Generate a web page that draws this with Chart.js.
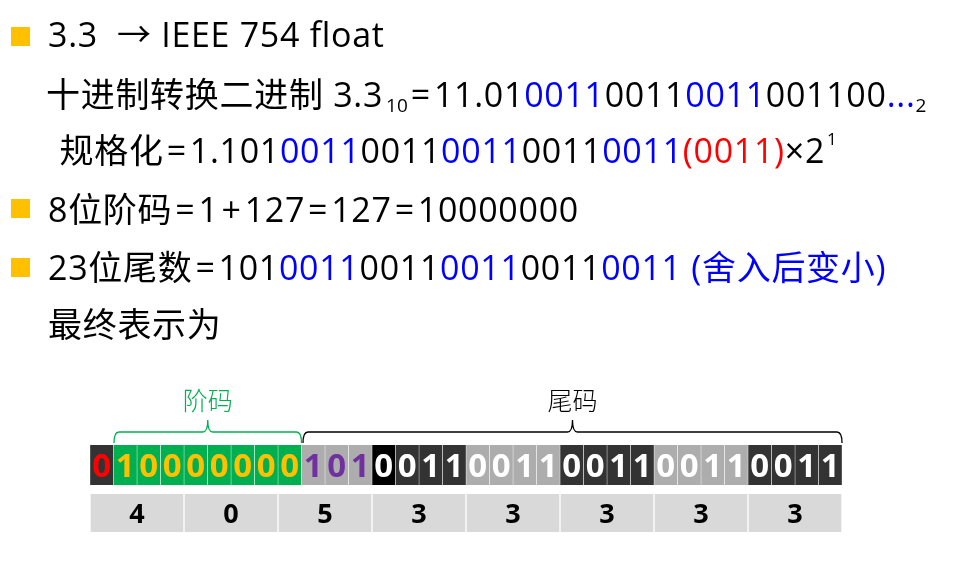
<!DOCTYPE html>
<html>
<head>
<meta charset="utf-8">
<script src="https://cdn.jsdelivr.net/npm/chart.js@4/dist/chart.umd.min.js"></script>
<style>
  html, body { margin: 0; padding: 0; background: #fff; }
  body { width: 958px; height: 562px; position: relative; overflow: hidden; }
  #bits { position: absolute; left: 0; top: 0; }
  .ln {
    position: absolute; white-space: pre; color: #000;
    font-family: "Open Sans", "Noto Sans CJK SC", sans-serif;
    font-size: 34px; line-height: 40px; letter-spacing: 0.7px;
  }
  .dot { position: absolute; left: 11px; width: 19px; height: 19px; background: #FFC000; }
  .b { color: #0000FF; }
  .r { color: #FF0000; }
  .eq { margin: 0 3px; }
  .sub { font-size: 19px; position: relative; top: 5px; letter-spacing: 0; }
  .sup { font-size: 17px; position: relative; top: -18px; margin-left: 2px; }
</style>
</head>
<body>
<canvas id="bits" width="958" height="562"></canvas>

<div class="dot" style="top:27px"></div>
<div class="ln" style="left:48px; top:14px">3.3&nbsp; → IEEE 754 float</div>
<div class="ln" style="left:46px; top:74px">十进制转换二进制 3.3<span class="sub" style="margin-left:3px">10</span><span class="eq">=</span>11.01<span class="b">0011</span>0011<span class="b">0011</span>001100<span class="b">...</span><span class="sub">2</span></div>
<div class="ln" style="left:50px; top:130px"> 规格化<span class="eq">=</span>1.101<span class="b">0011</span>0011<span class="b">0011</span>0011<span class="b">0011</span><span class="r">(0011)</span>×2<span class="sup">1</span></div>
<div class="dot" style="top:199px"></div>
<div class="ln" style="left:48px; top:189px">8位阶码<span class="eq">=</span>1<span class="eq">+</span>127<span class="eq">=</span>127<span class="eq">=</span>10000000</div>
<div class="dot" style="top:258px"></div>
<div class="ln" style="left:48px; top:247px">23位尾数<span class="eq">=</span>101<span class="b">0011</span>0011<span class="b">0011</span>0011<span class="b">0011</span><span class="b"> (舍入后变小)</span></div>
<div class="ln" style="left:48px; top:304px">最终表示为</div>

<script>
// 3.3 as IEEE 754 single precision
const bits = [0, 1,0,0,0,0,0,0,0, 1,0,1,0,0,1,1,0,0,1,1,0,0,1,1,0,0,1,1,0,0,1,1];
const hexDigits = ['4', '0', '5', '3', '3', '3', '3', '3'];
const rows = ['bits', 'hex'];
const fieldLabels = ['阶码', '尾码'];
const fieldStart = [1, 9];
const fieldEnd = [9, 32];

const GREEN = '#00B050';
const DARK = '#333333';
const GRAY = '#ADADAD';

function cellFill(i) {
  if (i === 0) return DARK;
  if (i <= 8) return GREEN;
  if (i === 12) return '#000000';
  return Math.floor(i / 4) % 2 ? DARK : GRAY;
}
function digitColor(i) {
  if (i === 0) return '#FF0000';
  if (i <= 8) return '#FFC000';
  if (i <= 11) return '#7030A0';
  return '#FFFFFF';
}

const datasets = [];
bits.forEach((b, i) => {
  datasets.push({
    data: [[i, i + 1], null],
    backgroundColor: cellFill(i),
    borderColor: '#FFFFFF',
    borderWidth: { left: 0.5, right: 0.5, top: 0, bottom: 0 },
    borderSkipped: false,
    barThickness: 40,
    grouped: false
  });
});
hexDigits.forEach((h, j) => {
  datasets.push({
    data: [null, [j * 4, j * 4 + 4]],
    backgroundColor: '#D9D9D9',
    borderColor: '#FFFFFF',
    borderWidth: { left: 1, right: 1, top: 0, bottom: 0 },
    borderSkipped: false,
    barThickness: 38,
    grouped: false
  });
});

function brace(ctx, x0, x1, yLine, yEnd, yTip, color) {
  const xm = (x0 + x1) / 2;
  const r = 5;
  ctx.beginPath();
  ctx.moveTo(x0, yEnd);
  ctx.quadraticCurveTo(x0, yLine, x0 + r, yLine);
  ctx.lineTo(xm - r, yLine);
  ctx.quadraticCurveTo(xm, yLine, xm, yTip);
  ctx.quadraticCurveTo(xm, yLine, xm + r, yLine);
  ctx.lineTo(x1 - r, yLine);
  ctx.quadraticCurveTo(x1, yLine, x1, yEnd);
  ctx.strokeStyle = color;
  ctx.lineWidth = 1.3;
  ctx.stroke();
}

const labelsPlugin = {
  id: 'cellLabels',
  afterDatasetsDraw(chart) {
    const { ctx, scales: { x, y } } = chart;
    const yBits = y.getPixelForValue(0);
    const yHex = y.getPixelForValue(1);
    ctx.save();
    ctx.textAlign = 'center';
    ctx.textBaseline = 'alphabetic';

    ctx.font = 'bold 33px "Open Sans", sans-serif';
    bits.forEach((b, i) => {
      ctx.fillStyle = digitColor(i);
      ctx.fillText(String(b), x.getPixelForValue(i + 0.5), yBits + 12);
    });

    ctx.font = 'bold 27px "Open Sans", sans-serif';
    ctx.fillStyle = '#000000';
    hexDigits.forEach((h, j) => {
      ctx.fillText(h, x.getPixelForValue(j * 4 + 2), yHex + 10);
    });

    const top = yBits - 20;
    fieldLabels.forEach((lab, k) => {
      const color = k === 0 ? GREEN : '#000000';
      const x0 = x.getPixelForValue(fieldStart[k]) + (k === 0 ? 0.5 : 1.5);
      const x1 = x.getPixelForValue(fieldEnd[k]);
      brace(ctx, x0, x1, top - 13, top - 2, top - 25, color);
      ctx.fillStyle = color;
      ctx.font = '300 25px "Noto Sans CJK SC", sans-serif';
      ctx.fillText(lab, (x0 + x1) / 2, top - 35);
    });
    ctx.restore();
  }
};

new Chart(document.getElementById('bits'), {
  type: 'bar',
  data: { labels: rows, datasets },
  options: {
    indexAxis: 'y',
    responsive: false,
    animation: false,
    events: [],
    layout: { padding: { left: 90, right: 116, top: 441, bottom: 25 } },
    plugins: { legend: { display: false }, tooltip: { enabled: false } },
    scales: {
      x: { type: 'linear', min: 0, max: 32, display: false },
      y: { type: 'category', display: false }
    }
  },
  plugins: [labelsPlugin]
});
</script>
</body>
</html>
